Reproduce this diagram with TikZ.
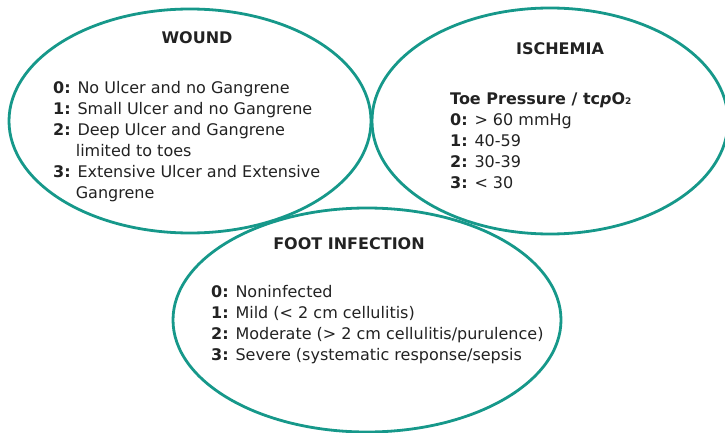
\documentclass[tikz,border=0pt]{standalone}
\usepackage{fontspec}
\setmainfont{DejaVu Sans}
\usepackage{xcolor}
\usepackage{tikz}
\definecolor{ringteal}{RGB}{22,152,138}
\definecolor{txtgray}{RGB}{34,34,34}
\tikzset{ring/.style={draw=ringteal,line width=2.8pt},
head/.style={font=\fontsize{16}{21}\selectfont\bfseries,text=txtgray,inner sep=0pt},
items/.style={font=\fontsize{16}{21}\selectfont,text=txtgray,align=left,inner sep=0pt,anchor=north west}}
\newcommand{\lvl}[1]{\textbf{#1:}}
\begin{document}
\begin{tikzpicture}[x=1pt,y=1pt]
\useasboundingbox (0,0) rectangle (725,432);
\draw[ring](190,311)ellipse[x radius=181,y radius=112];
\draw[ring](550,311)ellipse[x radius=178,y radius=113];
\draw[ring](367,112)ellipse[x radius=194,y radius=112];
\node[head](wound) at (197,394){WOUND};
\node[items](woundlist) at (53,351){\lvl{0} No Ulcer and no Gangrene\\
\lvl{1} Small Ulcer and no Gangrene\\
\lvl{2} Deep Ulcer and Gangrene\\
\phantom{\lvl{2}} limited to toes\\
\lvl{3} Extensive Ulcer and Extensive\\
\phantom{\lvl{3}} Gangrene};
\node[head](isch) at (560,383){ISCHEMIA};
\node[items](ischlist) at (450,340){\textbf{Toe Pressure / tc\textit{p}O{\fontsize{9}{9}\selectfont 2}}\\
\lvl{0} > 60 mmHg\\
\lvl{1} 40-59\\
\lvl{2} 30-39\\
\lvl{3} < 30};
\node[head](foot) at (349,188){FOOT INFECTION};
\node[items](footlist) at (211,147){\lvl{0} Noninfected\\
\lvl{1} Mild (< 2 cm cellulitis)\\
\lvl{2} Moderate (> 2 cm cellulitis/purulence)\\
\lvl{3} Severe (systematic response/sepsis};
\end{tikzpicture}
\end{document}
